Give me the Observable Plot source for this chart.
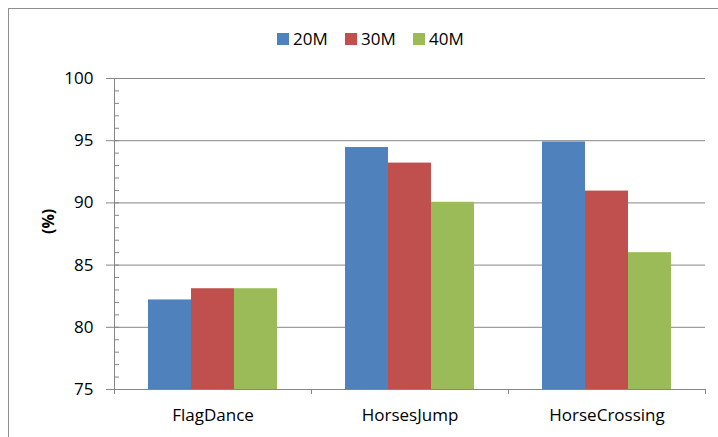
<!DOCTYPE html>
<html><head><meta charset="utf-8">
<script src="https://cdn.jsdelivr.net/npm/d3@7"></script>
<script src="https://cdn.jsdelivr.net/npm/@observablehq/plot@0.6"></script>
<style>
html,body{margin:0;padding:0;background:#fff;overflow:hidden;}
#wrap{position:relative;width:718px;height:437px;font-family:"Open Sans",sans-serif;}
#wrap svg{position:absolute;left:0;top:0;}
#border{position:absolute;left:8px;top:8px;width:760px;height:480px;border:1px solid #8f8f8f;pointer-events:none;}
#legend{position:absolute;top:30px;left:277px;display:flex;font-size:17px;color:#000;line-height:18px;}
.item{display:flex;align-items:center;width:68px;}
.sw{width:12px;height:12px;margin-right:4px;flex:none;}
</style></head><body><div id="wrap"><div id="border"></div><div id="legend"></div></div>
<script>
const categories = ["FlagDance", "HorsesJump", "HorseCrossing"];
const series = ["20M", "30M", "40M"];
const colors = ["#4F81BD", "#C0504D", "#9BBB59"];
const values20M = [82.2, 94.45, 94.9];
const values30M = [83.1, 93.2, 90.95];
const values40M = [83.1, 90.05, 86.0];
const yDomain = [75, 100];
const yTicks = [75, 80, 85, 90, 95, 100];
const yMinorTicks = d3.range(75, 101);
const yLabel = "(%)";

const seriesValues = [values20M, values30M, values40M];
const data = categories.flatMap((c, i) => series.map((s, j) => ({category: c, series: s, value: seriesValues[j][i]})));

const W = 718, H = 437, mL = 114, mR = 13, mT = 78, mB = 48;
const fxBand = (W - mL - mR) / categories.length;
const gridColor = "#868686";

const plot = Plot.plot({
  width: W, height: H,
  marginLeft: mL, marginRight: mR, marginTop: mT, marginBottom: mB,
  style: {background: "transparent", fontFamily: "Open Sans", fontSize: "17px", color: "#000", overflow: "visible"},
  fx: {domain: categories, padding: 0, label: null},
  x: {domain: series, paddingInner: 0, paddingOuter: 0.74, axis: null},
  y: {domain: yDomain, label: null},
  color: {domain: series, range: colors},
  marks: [
    Plot.gridY(yTicks.slice(1), {stroke: gridColor, strokeOpacity: 1}),
    Plot.barY(data, {fx: "category", x: "series", y1: () => yDomain[0], y2: "value", fill: "series"}),
    Plot.ruleY([yDomain[0]], {stroke: gridColor}),
    Plot.ruleX([categories[0]], {fx: d => d, x: null, y1: () => yDomain[0], y2: () => yDomain[1], dx: -fxBand / 2, stroke: gridColor}),
    Plot.axisY({ticks: yTicks, tickSize: 8, tickFormat: () => "", stroke: gridColor, label: null}),
    Plot.text(yTicks, {fx: () => categories[0], y: d => d, frameAnchor: "left", textAnchor: "end", dx: -21, fontSize: 17, fill: "#000"}),
    Plot.axisY({ticks: yMinorTicks, tickSize: 5, dx: 5, tickFormat: () => "", stroke: gridColor, label: null}),
    Plot.axisFx({anchor: "bottom", tickSize: 0, tickPadding: 19, label: null, fontSize: 17}),
    Plot.axisFx({anchor: "bottom", tickSize: 5, tickFormat: () => "", dx: -fxBand / 2, stroke: gridColor, label: null}),
    Plot.axisFx({anchor: "bottom", ticks: categories.slice(-1), tickSize: 5, tickFormat: () => "", dx: fxBand / 2, stroke: gridColor, label: null}),
    Plot.text([yLabel], {fx: () => categories[0], frameAnchor: "left", dx: -66, rotate: -90, fontWeight: "bold", fontSize: 16})
  ]
});
document.getElementById("wrap").insertBefore(plot, document.getElementById("border"));

const legend = d3.select("#legend");
series.forEach((s, i) => {
  const item = legend.append("div").attr("class", "item");
  item.append("div").attr("class", "sw").style("background", colors[i]);
  item.append("span").text(s);
});
</script>
</body></html>
